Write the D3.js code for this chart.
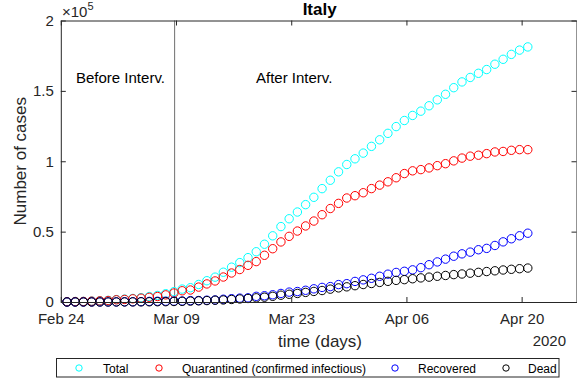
<!DOCTYPE html>
<html>
<head>
<meta charset="utf-8">
<script src="https://cdn.jsdelivr.net/npm/d3@7"></script>
<style>
  html, body { margin: 0; padding: 0; background: #fff; }
  svg { display: block; font-family: "Liberation Sans", Arial, sans-serif; }
</style>
</head>
<body>
<svg id="chart" width="577" height="381"></svg>
<script>
// daily data, Italy, from Feb 24 2020 (sampled at 18:00)
var total = [229, 322, 400, 650, 888, 1128, 1694, 2036, 2502, 3089, 3858, 4636, 5883, 7375,
    9172, 10149, 12462, 15113, 17660, 21157, 24747, 27980, 31506, 35713, 41035, 47021, 53578, 59138,
    63927, 69176, 74386, 80539, 86498, 92472, 97689, 101739, 105792, 110574, 115242, 119827, 124632, 128948,
    132547, 135586, 139422, 143626, 147577, 152271, 156363, 159516, 162488, 165155, 168941, 172434, 175925, 178972,
    181228];
var quarantined = [221, 311, 385, 588, 821, 1049, 1577, 1835, 2263, 2706, 3296, 3916, 5061, 6387,
    7985, 8514, 10590, 12839, 14955, 17750, 20603, 23073, 26062, 28710, 33190, 37860, 42681, 46638,
    50418, 54030, 57521, 62013, 66414, 70065, 73880, 75528, 77635, 80572, 83049, 85388, 88274, 91246,
    93187, 94067, 95262, 96877, 98273, 100269, 102253, 103616, 104291, 105418, 106607, 106962, 107771, 108257,
    108237];
var recovered = [1, 1, 3, 45, 46, 50, 83, 149, 160, 276, 414, 523, 589, 622,
    724, 1004, 1045, 1258, 1439, 1966, 2335, 2749, 2941, 4025, 4440, 5129, 6072, 7024,
    7432, 8326, 9362, 10361, 10950, 12384, 13030, 14620, 15729, 16847, 18278, 19758, 20996, 21815,
    22837, 24392, 26491, 28470, 30455, 32534, 34211, 35435, 37130, 38092, 40164, 42727, 44927, 47055,
    48877];
var dead = [7, 10, 12, 17, 21, 29, 34, 52, 79, 107, 148, 197, 233, 366,
    463, 631, 827, 1016, 1266, 1441, 1809, 2158, 2503, 2978, 3405, 4032, 4825, 5476,
    6077, 6820, 7503, 8165, 9134, 10023, 10779, 11591, 12428, 13155, 13915, 14681, 15362, 15887,
    16523, 17127, 17669, 18279, 18849, 19468, 19899, 20465, 21067, 21645, 22170, 22745, 23227, 23660,
    24114];

var seriesNames = ["Total", "Quarantined (confirmed infectious)", "Recovered", "Dead"];
var seriesColors = ["#00ffff", "#ff0000", "#0000ff", "#000000"];
var xTickDates = ["2020-02-24", "2020-03-09", "2020-03-23", "2020-04-06", "2020-04-20"];
var yTicks = [0, 50000, 100000, 150000, 200000];
var yTickLabels = ["0", "0.5", "1", "1.5", "2"];
var startDate = new Date(Date.UTC(2020, 1, 24));
var endDate = new Date(Date.UTC(2020, 3, 26, 16));
var interventionDate = new Date(Date.UTC(2020, 2, 8, 20));

var plotLeft = 60.8, plotRight = 576.5, plotTop = 20.5, plotBottom = 302;
var axisColor = "#262626";

var svg = d3.select("#chart");

var x = d3.scaleUtc()
    .domain([startDate, endDate])
    .range([plotLeft, plotRight]);

var y = d3.scaleLinear()
    .domain([0, 200000])
    .range([plotBottom, plotTop]);

function dayTime(i) {
    return d3.utcHour.offset(d3.utcDay.offset(startDate, i), 18);
}

var series = [total, quarantined, recovered, dead];

// intervention line
svg.append("line")
    .attr("x1", x(interventionDate))
    .attr("x2", x(interventionDate))
    .attr("y1", plotTop)
    .attr("y2", plotBottom)
    .attr("stroke", "#6e6e6e")
    .attr("stroke-width", 1);

svg.append("text")
    .attr("x", 76)
    .attr("y", 83)
    .attr("font-size", "15px")
    .attr("fill", "#000")
    .text("Before Interv.");

svg.append("text")
    .attr("x", 256)
    .attr("y", 83)
    .attr("font-size", "15px")
    .attr("fill", "#000")
    .text("After Interv.");

// markers
series.forEach(function(vals, k) {
    svg.append("g")
        .selectAll("circle")
        .data(vals)
        .enter()
        .append("circle")
        .attr("cx", function(d, i) { return x(dayTime(i)); })
        .attr("cy", function(d) { return y(d); })
        .attr("r", 4.2)
        .attr("fill", "none")
        .attr("stroke", seriesColors[k])
        .attr("stroke-width", 1);
});

// axes (matlab style box, ticks inside)
var xTicks = xTickDates.map(function(s) { return new Date(s + "T00:00:00Z"); });
var fmt = d3.utcFormat("%b %d");

function styleAxis(g) {
    g.select(".domain").attr("stroke", axisColor);
    g.selectAll(".tick line").attr("stroke", axisColor);
    g.selectAll(".tick text").attr("fill", axisColor).attr("font-size", "15px")
        .attr("font-family", "Liberation Sans, Arial, sans-serif");
}

svg.append("g")
    .attr("transform", "translate(0," + plotBottom + ")")
    .call(d3.axisBottom(x).tickValues(xTicks).tickFormat(fmt).tickSizeInner(-5).tickSizeOuter(0).tickPadding(11))
    .call(styleAxis);

svg.append("g")
    .attr("transform", "translate(0," + plotTop + ")")
    .call(d3.axisTop(x).tickValues(xTicks).tickFormat("").tickSizeInner(-5).tickSizeOuter(0))
    .call(styleAxis);

svg.append("g")
    .attr("transform", "translate(" + plotLeft + ",0)")
    .call(d3.axisLeft(y).tickValues(yTicks).tickFormat(function(d, i) { return yTickLabels[i]; })
        .tickSizeInner(-5).tickSizeOuter(0).tickPadding(7))
    .call(styleAxis);

svg.append("g")
    .attr("transform", "translate(" + plotRight + ",0)")
    .call(d3.axisRight(y).tickValues(yTicks).tickFormat("").tickSizeInner(-5).tickSizeOuter(0))
    .call(styleAxis);

// exponent label
var expo = svg.append("text")
    .attr("x", 62)
    .attr("y", 16.5)
    .attr("font-size", "15px")
    .attr("fill", axisColor);
expo.append("tspan").text("\u00d710");
expo.append("tspan").attr("dy", -7).attr("font-size", "11px").text("5");

// title
svg.append("text")
    .attr("x", (plotLeft + plotRight) / 2 + 1)
    .attr("y", 15)
    .attr("text-anchor", "middle")
    .attr("font-size", "17px")
    .attr("font-weight", "bold")
    .attr("fill", "#000")
    .text("Italy");

// axis labels
svg.append("text")
    .attr("x", 320)
    .attr("y", 347)
    .attr("text-anchor", "middle")
    .attr("font-size", "17px")
    .attr("fill", axisColor)
    .text("time (days)");

svg.append("text")
    .attr("x", 566)
    .attr("y", 346)
    .attr("text-anchor", "end")
    .attr("font-size", "15px")
    .attr("fill", axisColor)
    .text("2020");

svg.append("text")
    .attr("transform", "translate(26," + ((plotTop + plotBottom) / 2) + ") rotate(-90)")
    .attr("text-anchor", "middle")
    .attr("font-size", "17px")
    .attr("fill", axisColor)
    .text("Number of cases");

// legend
var legend = svg.append("g");
legend.append("rect")
    .attr("x", 56.5)
    .attr("y", 358.5)
    .attr("width", 502.5)
    .attr("height", 18.5)
    .attr("fill", "#fff")
    .attr("stroke", axisColor)
    .attr("stroke-width", 1);

var legendMarkX = [79, 159, 395, 506];
var legendTextX = [103, 182, 418, 528];
seriesNames.forEach(function(name, k) {
    legend.append("circle")
        .attr("cx", legendMarkX[k])
        .attr("cy", 368)
        .attr("r", 3.2)
        .attr("fill", "none")
        .attr("stroke", seriesColors[k])
        .attr("stroke-width", 1);
    legend.append("text")
        .attr("x", legendTextX[k])
        .attr("y", 372.5)
        .attr("font-size", "12px")
        .attr("fill", "#000")
        .text(name);
});
</script>
</body>
</html>
